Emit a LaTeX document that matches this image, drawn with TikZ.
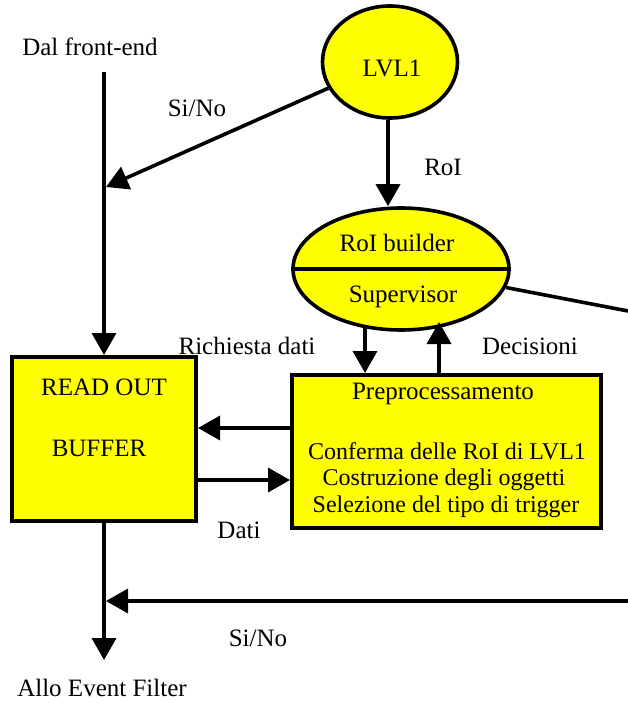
\documentclass[tikz,border=0pt]{standalone}
\usepackage{fontspec}
\setmainfont{Liberation Serif}
\newfontfamily\diagfont{Liberation Serif}
\usetikzlibrary{shapes.geometric,arrows.meta}
\definecolor{boxyellow}{RGB}{255,255,0}
\begin{document}
\begin{tikzpicture}[x=1pt,y=-1pt,
  wire/.style={line width=3.6pt},
  arr/.style={wire,-{Triangle[length=22pt,width=24pt]}},
  block/.style={draw,line width=4pt,fill=boxyellow,inner sep=0pt},
  oval/.style={ellipse,draw,line width=3.6pt,fill=boxyellow,inner sep=0pt},
  lbl/.style={font=\diagfont\fontsize{25}{30}\selectfont,inner sep=0pt},
  small/.style={font=\diagfont\fontsize{24}{28}\selectfont,inner sep=0pt}]
\useasboundingbox (0,0) rectangle (628,703);

% trigger levels
\node[oval,minimum width=135pt,minimum height=112pt] (lvl1) at (390,62) {};
\node[lbl] (lvl1t) at (392,68) {LVL1};
\node[oval,minimum width=216pt,minimum height=122pt] (sup) at (401,269) {};
\draw[wire] (sup.west) -- (sup.east);
\node[lbl] (roib) at (397,243) {RoI builder};
\node[lbl] (supv) at (403,297) {Supervisor};

% buffers and processing
\node[block,minimum width=184pt,minimum height=164pt] (rob) at (104,439) {};
\node[lbl] (robA) at (104,387) {READ OUT};
\node[lbl] (robB) at (99,448) {BUFFER};
\node[block,minimum width=309pt,minimum height=153pt] (pre) at (446.5,451.5) {};
\node[lbl] (preT) at (443,394) {Preprocessamento};
\node[small] (preA) at (447,451) {Conferma delle RoI di LVL1};
\node[small] (preB) at (444,480) {Costruzione degli oggetti};
\node[small] (preC) at (446,507) {Selezione del tipo di trigger};

% external ends
\node[lbl] (fe) at (90,47) {Dal front-end};
\node[lbl] (ef) at (102,688) {Allo Event Filter};
\coordinate (feEnd) at (104,72);
\coordinate (ynTip) at (106,187);
\coordinate (supOut) at (628,311);
\coordinate (ynIn) at (628,601);
\coordinate (ynJoin) at (106,601);
\coordinate (efTip) at (104,660);

% labels
\node[lbl] (l1) at (197,108) {Si/No};
\node[lbl] (l2) at (443,167) {RoI};
\node[lbl] (l3) at (247,346) {Richiesta dati};
\node[lbl] (l4) at (530,346) {Decisioni};
\node[lbl] (l5) at (239,530) {Dati};
\node[lbl] (l6) at (258,638) {Si/No};

% connectors
\draw[arr] (feEnd) -- (rob.north -| feEnd);
\draw[arr] (lvl1.203) -- (ynTip);
\draw[arr] (lvl1.south -| 388,0) -- (sup.north -| 388,0);
\draw[wire] (sup.-10) -- (supOut);
\draw[arr] (365,328) -- (pre.north -| 365,0);
\draw[arr] (pre.north -| 439,0) -- (439,322);
\draw[arr] (pre.west |- 0,428) -- (rob.east |- 0,428);
\draw[arr] (rob.east |- 0,480) -- (pre.west |- 0,480);
\draw[arr] (rob.south) -- (efTip);
\draw[arr] (ynIn) -- (ynJoin);
\end{tikzpicture}
\end{document}
